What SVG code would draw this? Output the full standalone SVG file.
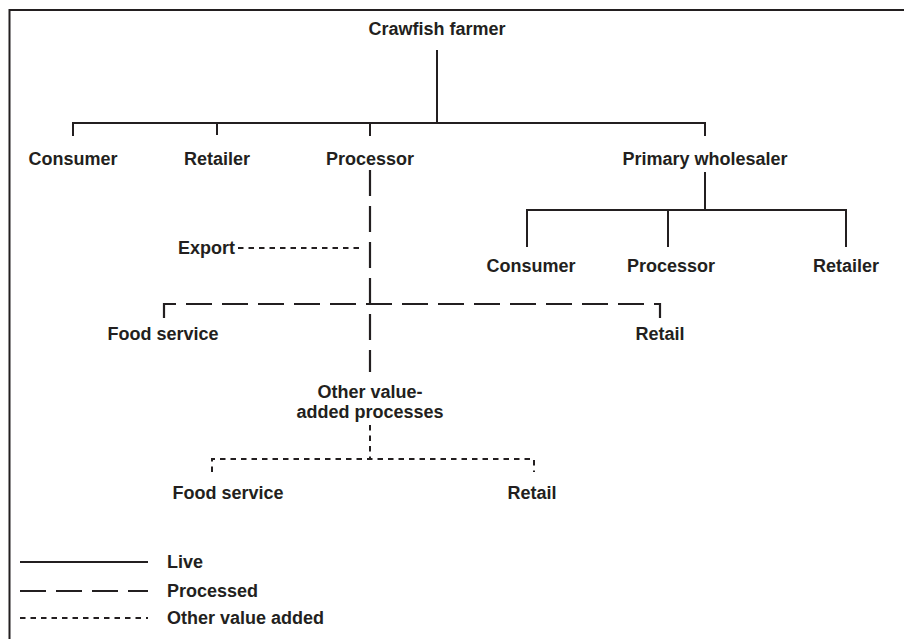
<svg xmlns="http://www.w3.org/2000/svg" width="904" height="639" viewBox="0 0 904 639">
<style>
text{font-family:"Liberation Sans",Arial,sans-serif;font-weight:bold;font-size:18px;fill:#231f20;text-anchor:middle}
.l{fill:none;stroke:#231f20;stroke-width:2}
.d{stroke-dasharray:26 10;stroke-width:2.2}
.o{stroke-dasharray:5.5 5}
</style>
<rect width="904" height="639" fill="#fff"/>
<path class="l" d="M9.5,639 V10 H904" stroke-width="1.6"/>
<g id="connectors">
<path class="l" d="M437,50 V123 M73,136 V123 H705 V136 M217,123 V135 M370,123 V136"/>
<path class="l" d="M705,172 V210 M527,247 V210 H846 V247 M668,210 V247"/>
<path class="l d" d="M370,170 V372" stroke-dasharray="25 12"/>
<path class="l d" d="M164,318 V304 H660 V318"/>
<path class="l o" d="M238,248 H362"/>
<path class="l o" d="M370,425 V459"/>
<path class="l o" d="M212,472 V459 H534 V472"/>
</g>
<g id="n-farmer"><text x="437" y="35">Crawfish farmer</text></g>
<g id="n-consumer1"><text x="73" y="165">Consumer</text></g>
<g id="n-retailer1"><text x="217" y="165">Retailer</text></g>
<g id="n-processor1"><text x="370" y="165">Processor</text></g>
<g id="n-wholesaler"><text x="705" y="165">Primary wholesaler</text></g>
<g id="n-consumer2"><text x="531" y="272">Consumer</text></g>
<g id="n-processor2"><text x="671" y="272">Processor</text></g>
<g id="n-retailer2"><text x="846" y="272">Retailer</text></g>
<g id="n-export"><text x="235" y="254" style="text-anchor:end">Export</text></g>
<g id="n-food1"><text x="163" y="340">Food service</text></g>
<g id="n-retail1"><text x="660" y="340">Retail</text></g>
<g id="n-other"><text x="370" y="398">Other value-</text><text x="370" y="418">added processes</text></g>
<g id="n-food2"><text x="228" y="499">Food service</text></g>
<g id="n-retail2"><text x="532" y="499">Retail</text></g>
<g id="legend">
<path class="l" d="M20,562 H148"/>
<path class="l d" d="M20,591 H148" stroke-dasharray="22 11"/>
<path class="l o" d="M20,618 H148"/>
<text x="167" y="568" style="text-anchor:start">Live</text>
<text x="167" y="597" style="text-anchor:start">Processed</text>
<text x="167" y="624" style="text-anchor:start">Other value added</text>
</g>
</svg>
